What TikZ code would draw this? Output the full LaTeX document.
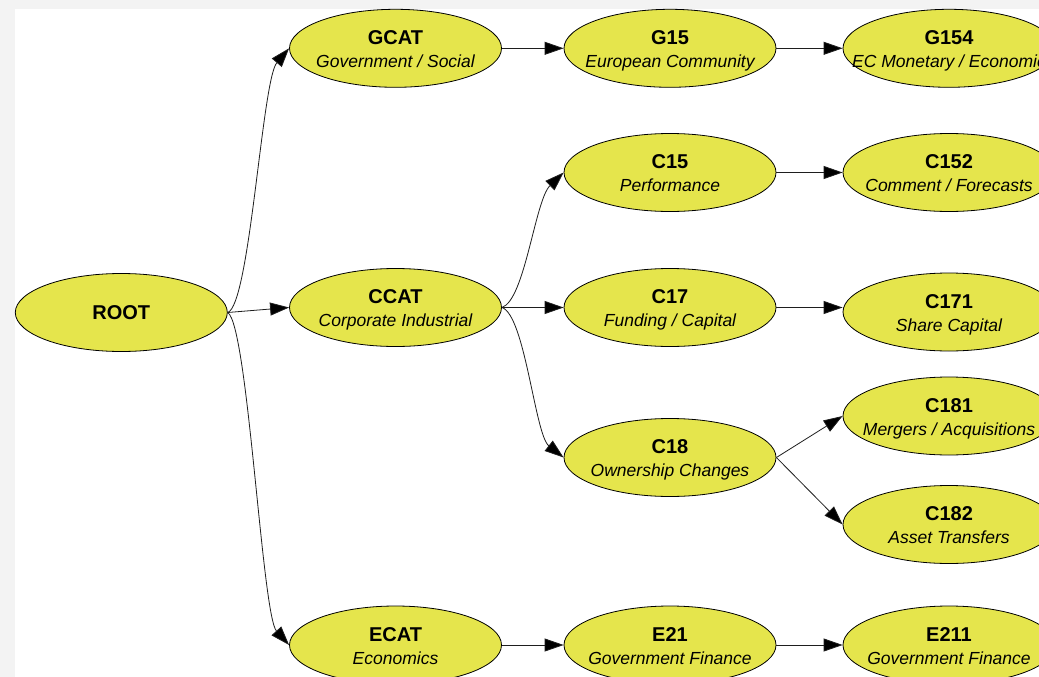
\documentclass[tikz,border=0pt]{standalone}
\usepackage{fontspec}
\setmainfont{Liberation Sans}
\usetikzlibrary{shapes.geometric,arrows.meta}
\definecolor{nodeyellow}{RGB}{229,229,76}
\definecolor{edgegray}{RGB}{30,30,30}
\definecolor{framegray}{RGB}{243,243,243}
\newcommand\cattext[2]{\makebox[0pt]{\fontsize{17.5}{23}\selectfont\begin{tabular}[t]{@{}c@{}}\fontsize{20}{23}\selectfont\bfseries #1\\\itshape #2\end{tabular}}}
\tikzset{
  cat/.style={ellipse, draw=black, line width=0.8pt, fill=nodeyellow,
    minimum width=212pt, minimum height=78pt, inner sep=0pt,
    text height=0pt, text depth=8pt},
  rootnode/.style={cat, text height=14.3pt, text depth=0pt,
    font=\fontsize{20}{23}\selectfont\bfseries},
  link/.style={draw=edgegray, line width=0.8pt,
    -{Triangle[length=19pt,width=13pt,fill=black]}}
}
\begin{document}
\begin{tikzpicture}[x=1pt,y=-1pt]
\useasboundingbox (0,0) rectangle (1039,677);
\clip (0,0) rectangle (1039,677);
\fill[framegray] (0,0) rectangle (1039,677);
\fill[white] (15,9) rectangle (1039,677);

\node[rootnode] (ROOT) at (121.3,312.5) {ROOT};
\node[cat] (GCAT) at (395.5,48.3) {\cattext{GCAT}{Government / Social}};
\node[cat] (CCAT) at (395.5,307.5) {\cattext{CCAT}{Corporate Industrial}};
\node[cat] (ECAT) at (395.5,645) {\cattext{ECAT}{Economics}};

\node[cat] (G15) at (670,48.3) {\cattext{G15}{European Community}};
\node[cat] (C15) at (670,172.5) {\cattext{C15}{Performance}};
\node[cat] (C17) at (670,307.5) {\cattext{C17}{Funding / Capital}};
\node[cat] (C18) at (670,457.5) {\cattext{C18}{Ownership Changes}};
\node[cat] (E21) at (670,645) {\cattext{E21}{Government Finance}};

\node[cat] (G154) at (949,48.3) {\cattext{G154}{EC Monetary / Economic}};
\node[cat] (C152) at (949,172.5) {\cattext{C152}{Comment / Forecasts}};
\node[cat] (C171) at (949,312) {\cattext{C171}{Share Capital}};
\node[cat] (C181) at (949,416) {\cattext{C181}{Mergers / Acquisitions}};
\node[cat] (C182) at (949,524.5) {\cattext{C182}{Asset Transfers}};
\node[cat] (E211) at (949,645) {\cattext{E211}{Government Finance}};

\draw[link] (ROOT.east) .. controls (250,305) and (262,80) .. (GCAT.west);
\draw[link] (ROOT.east) -- (CCAT.west);
\draw[link] (ROOT.east) .. controls (248,325) and (262,615) .. (ECAT.west);

\draw[link] (GCAT.east) -- (G15.west);
\draw[link] (CCAT.east) .. controls (525,300) and (535,200) .. (C15.west);
\draw[link] (CCAT.east) -- (C17.west);
\draw[link] (CCAT.east) .. controls (525,315) and (535,435) .. (C18.west);
\draw[link] (ECAT.east) -- (E21.west);

\draw[link] (G15.east) -- (G154.west);
\draw[link] (C15.east) -- (C152.west);
\draw[link] (C17.east) -- (C17.east -| C171.west);
\draw[link] (C18.east) -- (C181.west);
\draw[link] (C18.east) -- (C182.west);
\draw[link] (E21.east) -- (E211.west);
\end{tikzpicture}
\end{document}
